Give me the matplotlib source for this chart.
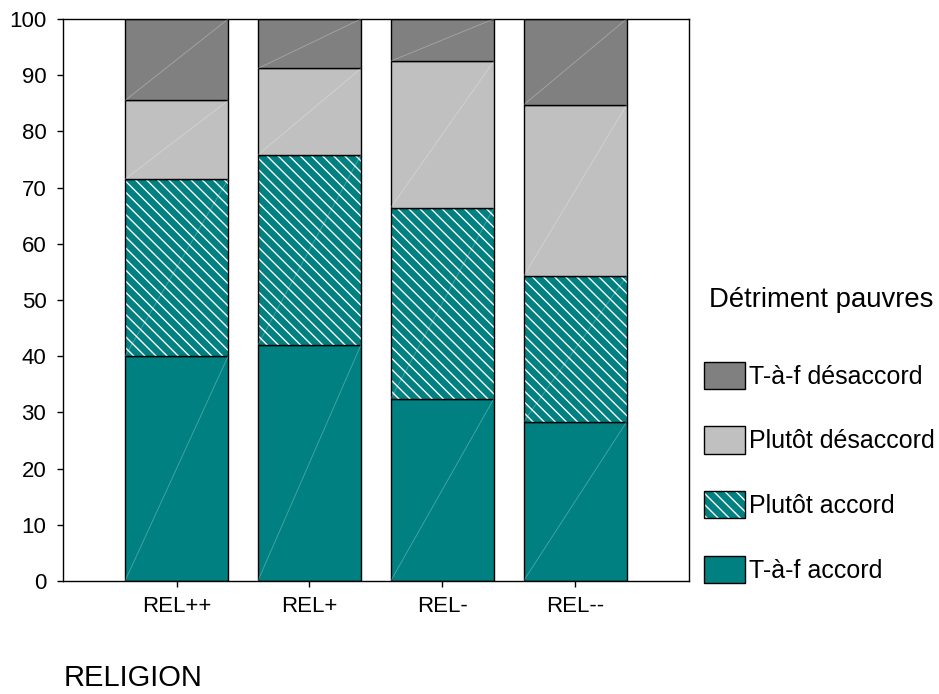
import matplotlib.pyplot as plt
import numpy as np
from matplotlib.patches import Patch

plt.rcParams['font.family'] = ['Liberation Sans', 'DejaVu Sans']
plt.rcParams['hatch.linewidth'] = 1.0

categories = ['REL++', 'REL+', 'REL-', 'REL--']
tf_accord = [40.0, 42.0, 32.4, 28.3]
pt_accord = [31.5, 33.8, 34.0, 25.9]
pt_desaccord = [14.0, 15.4, 26.1, 30.5]
tf_desaccord = [14.5, 8.8, 7.5, 15.3]

series = [
    ('T-à-f accord', tf_accord, '#008080', None),
    ('Plutôt accord', pt_accord, '#008080', '\\\\\\'),
    ('Plutôt désaccord', pt_desaccord, '#c0c0c0', None),
    ('T-à-f désaccord', tf_desaccord, '#808080', None),
]

fig = plt.figure(figsize=(9.39, 6.94), dpi=100)
ax = fig.add_axes([63 / 939, 1 - 581 / 694, 626 / 939, 562 / 694])

x = np.arange(len(categories))
w = 0.776
bottom = np.zeros(len(categories))
for label, vals, color, hatch in series:
    if hatch:
        # white hatch: edgecolor drives hatch colour, so outline drawn separately
        ax.bar(x, vals, width=w, bottom=bottom, color=color,
               edgecolor='white', linewidth=0, hatch=hatch)
        bars = ax.bar(x, vals, width=w, bottom=bottom, fill=False,
                      edgecolor='black', linewidth=1.0)
    else:
        bars = ax.bar(x, vals, width=w, bottom=bottom, color=color,
                      edgecolor='black', linewidth=1.0)
    # faint diagonal streak inside every segment (SPSS look)
    for b in bars:
        x0, y0 = b.get_x(), b.get_y()
        ax.plot([x0, x0 + b.get_width()], [y0, y0 + b.get_height()],
                color='white', alpha=0.3, linewidth=0.6, zorder=3)
    bottom += np.array(vals)

# legend proxies
leg_handles = []
for lab, _, c, h in series:
    if h:
        leg_handles.append((Patch(facecolor=c, edgecolor='white', linewidth=0, hatch=h),
                            Patch(fill=False, edgecolor='black', linewidth=1.0)))
    else:
        leg_handles.append(Patch(facecolor=c, edgecolor='black', linewidth=1.0))

ax.set_xlim(-0.855, 3.858)
ax.set_ylim(0, 100)
ax.set_yticks(np.arange(0, 101, 10))
ax.set_xticks(x)
ax.set_xticklabels(categories)
ax.tick_params(axis='both', labelsize=16, direction='out', length=4, width=1)
ax.tick_params(axis='y', pad=8)
ax.tick_params(axis='x', pad=7)
for s in ax.spines.values():
    s.set_linewidth(1.0)

fig.text(64 / 939, 1 - 686 / 694, 'RELIGION', fontsize=21, va='baseline', ha='left')

leg = fig.legend(leg_handles[::-1], [s[0] for s in series][::-1],
                 title='Détriment pauvres', loc='upper left',
                 bbox_to_anchor=(704 / 939, 1 - 287 / 694), frameon=False,
                 fontsize=18, title_fontsize=19.8, alignment='left',
                 handlelength=1.65, handleheight=1.3, handletextpad=0.15,
                 labelspacing=1.5, borderpad=0, borderaxespad=0)
leg._legend_box.sep = 35
leg.get_title().set_x(5)

fig.savefig('out.png', dpi=100)
